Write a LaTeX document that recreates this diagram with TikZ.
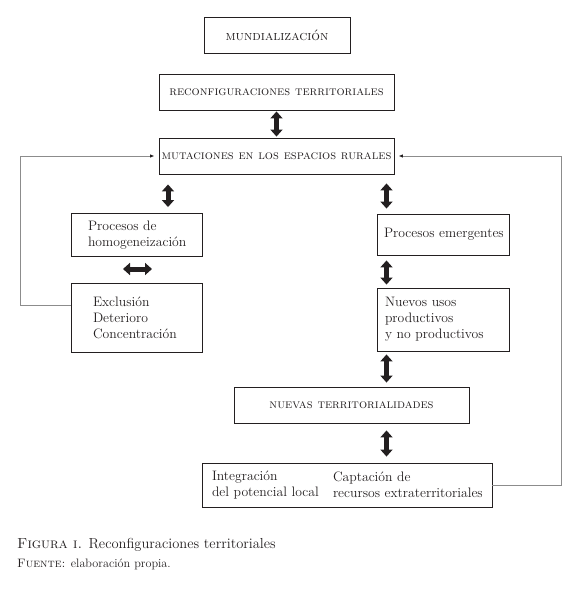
\documentclass[tikz,border=0pt]{standalone}
\usepackage{fontspec}
\usetikzlibrary{arrows.meta,calc}
\definecolor{ink}{RGB}{35,31,32}
\definecolor{fbline}{RGB}{140,140,140}
\begin{document}
\begin{tikzpicture}[x=1pt,y=-1pt,
  box/.style={draw=ink, line width=0.9pt, inner sep=0pt, text=ink, font=\bodyfont},
  scbox/.style={box, font=\scfont},
  dbl/.style={draw=ink, line width=5pt, {Triangle[width=12pt,length=7pt]}-{Triangle[width=12pt,length=7pt]}},
  fb/.style={draw=fbline, line width=0.9pt, -{Latex[length=4.5pt,width=3.5pt,color=ink]}},
  lbox/.style={box, align=left, inner xsep=#1},
]
\newcommand\bodyfont{\fontsize{13.7}{16}\selectfont\addfontfeature{FakeBold=0.3}}
\newcommand\scfont{\fontsize{12.8}{14}\selectfont\addfontfeature{LetterSpace=4,FakeBold=0.4}\scshape}
\useasboundingbox (0,0) rectangle (580,593);

\node[scbox, minimum width=146, minimum height=36, font=\scfont\fontsize{13.6}{14}\selectfont] (mund) at (277,35) {mundialización};
\node[scbox, minimum width=235, minimum height=36] (reconf) at (276.5,92) {reconfiguraciones territoriales};
\node[scbox, minimum width=235, minimum height=36] (mut) at (276.5,156) {mutaciones en los espacios rurales};

\node[lbox=17, text width=97, minimum height=43] (homog) at (136.5,235) {\mbox{Procesos de}\\\mbox{homogeneización}};
\node[lbox=22, text width=87, minimum height=69] (excl) at (136.5,317.5) {\mbox{Exclusión}\\\mbox{Deterioro}\\\mbox{Concentración}};

\node[lbox=7, text width=118, minimum height=41] (emerg) at (443,234.5) {\mbox{Procesos emergentes}};
\node[lbox=8, text width=116, minimum height=63] (nuevos) at (443,319.5) {\mbox{Nuevos usos}\\\mbox{productivos}\\\mbox{y no productivos}};

\node[scbox, minimum width=235, minimum height=36] (nuevas) at (351.5,405) {nuevas territorialidades};
\node[box, minimum width=290, minimum height=44, inner xsep=10, text width=270] (bottom) at (347,485)
  {\parbox[c]{121pt}{\raggedright\mbox{Integración}\\\mbox{del potencial local}}\parbox[c]{149pt}{\raggedright\mbox{Captación de}\\\mbox{recursos extraterritoriales}}};

% double arrows
\draw[dbl, shorten <=1pt, shorten >=1pt] (reconf.south) -- (mut.north);
\draw[dbl, shorten <=10pt, shorten >=6pt] (mut.south -| 168,0) -- (homog.north -| 168,0);
\coordinate (h1) at (123,269);
\coordinate (h2) at (152,269);
\draw[dbl] (h1) -- (h2);
\draw[dbl, shorten <=9pt, shorten >=5pt] (mut.south -| 386.5,0) -- (emerg.north -| 386.5,0);
\draw[dbl, shorten <=5pt, shorten >=3pt] (emerg.south -| 386.5,0) -- (nuevos.north -| 386.5,0);
\draw[dbl, shorten <=3pt, shorten >=4pt] (nuevos.south -| 386.5,0) -- (nuevas.north -| 386.5,0);
\draw[dbl, shorten <=7pt, shorten >=6pt] (nuevas.south -| 386.5,0) -- (bottom.north -| 386.5,0);

% feedback lines
\draw[fb] ([yshift=12.5pt]excl.west) -- ++(-50,0) |- ([xshift=-4pt]mut.west);
\draw[fb] (bottom.east) -- ++(69,0) |- ([xshift=4pt]mut.east);

% caption
\node[anchor=base west, inner sep=0pt, text=ink, font=\fontsize{14.5}{16}\selectfont\addfontfeature{FakeBold=0.3}] (cap) at (17,548)
  {\textsc{Figura i.} Reconfiguraciones territoriales};
\node[anchor=base west, inner sep=0pt, text=ink, font=\fontsize{12.2}{13}\selectfont\addfontfeature{FakeBold=0.3}] (src) at (17,567)
  {\textsc{Fuente:} elaboración propia.};
\end{tikzpicture}
\end{document}
